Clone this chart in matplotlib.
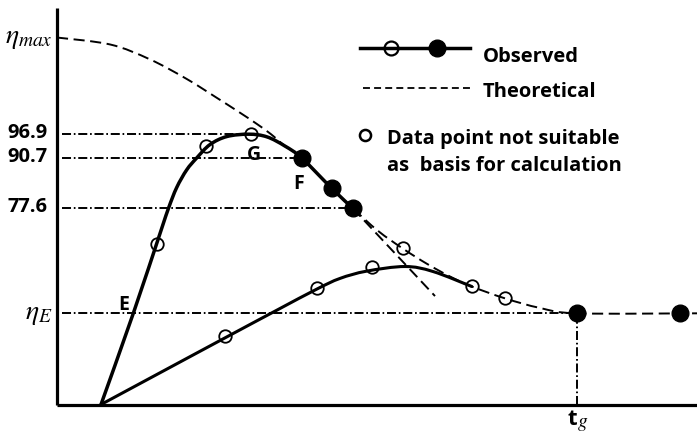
import numpy as np
import matplotlib
matplotlib.use("Agg")
import matplotlib.pyplot as plt
from matplotlib.path import Path
from matplotlib.patches import PathPatch
from matplotlib.lines import Line2D
from matplotlib import transforms

plt.rcParams['font.family'] = ['Open Sans', 'DejaVu Sans']
plt.rcParams['mathtext.fontset'] = 'stix'
plt.rcParams['lines.scale_dashes'] = False

# ---- characteristic levels -------------------------------------------------
eta_max = 122.1
eta_G = 96.9
eta_F = 90.7
eta_77 = 77.6
eta_E = 50.2
t_g = 52.0

tick_values = [eta_max, eta_G, eta_F, eta_77, eta_E]
tick_labels = [r'$\eta_{max}$', '96.9', '90.7', '77.6', r'$\eta_{E}$']

# ---- observed curve, fast run (E -> G -> F) --------------------------------
fast_x = [4.4, 7.63, 10.3, 11.15, 11.97, 12.97, 13.97, 15.3, 17.0, 19.2, 21.0, 22.8, 24.47, 27.47, 29.57]
fast_y = [26.43, 50.2, 71.0, 77.6, 83.0, 87.6, 90.7, 94.2, 96.3, 96.9, 96.2, 93.8, 90.7, 82.8, 77.6]
fast_open_x = [9.97, 14.87, 19.4]
fast_open_y = [68.4, 93.9, 96.9]
fast_fill_x = [24.47, 27.47, 29.57]
fast_fill_y = [90.7, 82.8, 77.6]

# ---- observed curve, slow run ----------------------------------------------
slow_x = [4.4, 10.3, 16.8, 21.97, 25.97, 28.3, 30.97, 34.8, 37.6, 41.47]
slow_y = [26.43, 34.7, 43.8, 51.0, 56.5, 59.3, 61.2, 62.4, 61.1, 57.2]
slow_open_x = [16.8, 25.97, 31.53, 41.47]
slow_open_y = [44.3, 56.7, 62.4, 57.2]

# ---- theoretical curve -----------------------------------------------------
theo_x = [0.0, 5.3, 9.3, 12.97, 15.97, 18.3, 19.97, 21.4, 22.8, 24.47, 27.47, 29.57,
          32.1, 34.63, 37.0, 39.3, 41.47, 44.8, 48.3, 52.0, 64.0]
theo_y = [122.1, 120.3, 116.4, 111.3, 106.4, 102.5, 99.6, 96.9, 93.8, 90.7, 82.8, 77.6,
          71.7, 67.0, 63.1, 59.8, 57.2, 54.1, 51.6, 50.2, 50.2]
theo_open_x = [34.63, 44.8]
theo_open_y = [67.2, 54.1]
theo_fill_x = [52.0, 62.3]
theo_fill_y = [50.2, 50.2]

# straight extrapolation through the filled points
tangent_x = [29.57, 37.8]
tangent_y = [77.6, 54.7]


def smooth_path(xs, ys):
    """Catmull-Rom spline through the given points as cubic Bezier segments."""
    pts = np.column_stack([xs, ys]).astype(float)
    n = len(pts)
    verts = [pts[0]]
    codes = [Path.MOVETO]
    for i in range(n - 1):
        p0 = pts[i - 1] if i > 0 else pts[i]
        p1, p2 = pts[i], pts[i + 1]
        p3 = pts[i + 2] if i + 2 < n else pts[i + 1]
        verts += [p1 + (p2 - p0) / 6.0, p2 - (p3 - p1) / 6.0, p2]
        codes += [Path.CURVE4] * 3
    return Path(verts, codes)


W, H = 697, 433
fig = plt.figure(figsize=(W / 100, H / 100), dpi=100)
ax = fig.add_axes([57 / W, 1 - 404.5 / H, 640 / W, (404.5 - 8) / H])
ax.set_xlim(0, 64)
ax.set_ylim(26.43, 129.8)

for s in ['top', 'right']:
    ax.spines[s].set_visible(False)
for s in ['left', 'bottom']:
    ax.spines[s].set_linewidth(2.3)
    ax.spines[s].set_capstyle('butt')
ax.set_xticks([])
ax.set_yticks([])

dashdot = (0, (6.5, 2.0, 1.2, 2.0))
dashed = (0, (8.0, 4.0))

# reference levels
ax.hlines(eta_G, 0.5, 18.8, colors='black', lw=1.4, linestyles=[dashdot], zorder=1)
ax.hlines(eta_F, 0.5, 24.0, colors='black', lw=1.4, linestyles=[dashdot], zorder=1)
ax.hlines(eta_77, 0.5, 29.0, colors='black', lw=1.4, linestyles=[dashdot], zorder=1)
ax.hlines(eta_E, 0.5, t_g, colors='black', lw=1.4, linestyles=[dashdot], zorder=1)
ax.vlines(t_g, 26.43, eta_E, colors='black', lw=1.4, linestyles=[dashdot], zorder=1)

# theoretical curve and extrapolation
ax.add_patch(PathPatch(smooth_path(theo_x, theo_y), fill=False, lw=1.4,
                       linestyle=dashed, edgecolor='black', zorder=2))
ax.plot(tangent_x, tangent_y, color='black', lw=1.4, linestyle=dashed, zorder=2)

# observed curves
ax.add_patch(PathPatch(smooth_path(fast_x, fast_y), fill=False, lw=2.5,
                       edgecolor='black', zorder=3, capstyle='round'))
ax.add_patch(PathPatch(smooth_path(slow_x, slow_y), fill=False, lw=2.2,
                       edgecolor='black', zorder=3, capstyle='round'))

open_kw = dict(ls='none', marker='o', ms=9, mfc='none', mec='black', mew=1.3, zorder=4)
fill_kw = dict(ls='none', marker='o', ms=12, mfc='black', mec='black', zorder=4)
ax.plot(fast_open_x, fast_open_y, **open_kw)
ax.plot(slow_open_x, slow_open_y, **open_kw)
ax.plot(theo_open_x, theo_open_y, **open_kw)
ax.plot(fast_fill_x, fast_fill_y, **fill_kw)
ax.plot(theo_fill_x, theo_fill_y, **fill_kw)

# y-axis labels
ytrans = transforms.blended_transform_factory(ax.transAxes, ax.transData)
for val, lab in zip(tick_values, tick_labels):
    if lab.startswith('$'):
        tr = transforms.offset_copy(ytrans, fig=fig, x=-3.5, y=-4.0, units='points')
        ax.text(0, val, lab, transform=tr, ha='right', va='baseline', fontsize=20)
    else:
        tr = transforms.offset_copy(ytrans, fig=fig, x=-7, y=-3.0, units='points')
        ax.text(0, val, lab, transform=tr, ha='right', va='baseline',
                fontsize=14.5, fontweight='bold')

# point labels
lab_kw = dict(fontsize=14, fontweight='bold', ha='left', va='baseline')
ax.text(6.1, 51.1, 'E', **lab_kw)
ax.text(18.97, 90.3, 'G', **lab_kw)
ax.text(23.63, 82.5, 'F', **lab_kw)

# t_g under the axis: bold sans "t" with an italic serif subscript
tg_base = transforms.offset_copy(ax.transData, fig=fig, x=-3.5, y=-14.8, units='points')
ax.text(t_g, 26.43, 't', transform=tg_base, ha='center', va='baseline',
        fontsize=16, fontweight='bold')
tg_sub = transforms.offset_copy(ax.transData, fig=fig, x=-0.2, y=-16.2, units='points')
ax.text(t_g, 26.43, r'$g$', transform=tg_sub, ha='left', va='baseline', fontsize=14)


def fpos(px, py):
    return px / W, 1 - py / H


# legend
fig.add_artist(Line2D(*zip(fpos(360, 48), fpos(470, 48)), transform=fig.transFigure,
                      color='black', lw=2.5))
fig.add_artist(Line2D(*zip(fpos(391, 48)), transform=fig.transFigure, ls='none',
                      marker='o', ms=10, mfc='none', mec='black', mew=1.6))
fig.add_artist(Line2D(*zip(fpos(437, 48)), transform=fig.transFigure, ls='none',
                      marker='o', ms=12, mfc='black', mec='black'))
fig.add_artist(Line2D(*zip(fpos(363, 88), fpos(472, 88)), transform=fig.transFigure,
                      color='black', lw=1.3, linestyle=(0, (5.0, 3.0))))
fig.add_artist(Line2D(*zip(fpos(365, 135)), transform=fig.transFigure, ls='none',
                      marker='o', ms=8, mfc='none', mec='black', mew=1.8))

leg_kw = dict(fontsize=14.5, fontweight='bold', ha='left', va='baseline',
              transform=fig.transFigure)
fig.text(*fpos(483, 62), 'Observed', **leg_kw)
fig.text(*fpos(483, 96.7), 'Theoretical', **leg_kw)
fig.text(*fpos(386.7, 144), 'Data point not suitable', **leg_kw)
fig.text(*fpos(386.7, 171), 'as  basis for calculation', **leg_kw)

fig.savefig('out.png', dpi=100)
